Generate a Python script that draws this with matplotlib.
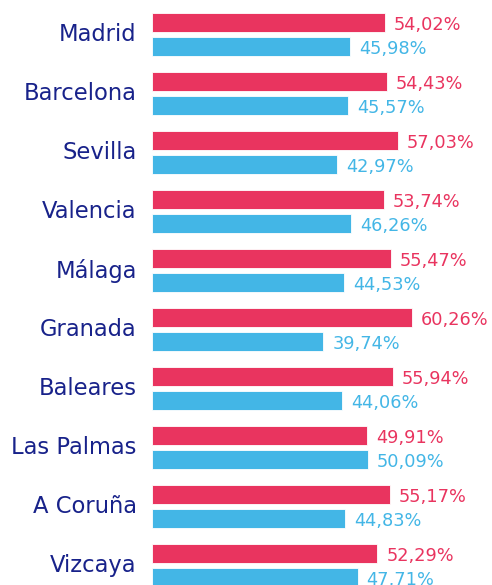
import matplotlib.pyplot as plt
import numpy as np

provincias = ["Madrid", "Barcelona", "Sevilla", "Valencia", "Málaga",
              "Granada", "Baleares", "Las Palmas", "A Coruña", "Vizcaya"]
rojo = [54.02, 54.43, 57.03, 53.74, 55.47, 60.26, 55.94, 49.91, 55.17, 52.29]
azul = [45.98, 45.57, 42.97, 46.26, 44.53, 39.74, 44.06, 50.09, 44.83, 47.71]

C_ROJO = "#e9345f"
C_AZUL = "#43b6e6"
C_TXT = "#18228a"

fig = plt.figure(figsize=(4.92, 5.85), dpi=100)
ax = fig.add_axes([152 / 492, 0, 340 / 492, 1])

y = np.arange(len(provincias))
off, h = 0.203, 0.322
ax.barh(y - off, rojo, height=h, color=C_ROJO, edgecolor="white", linewidth=0.6)
ax.barh(y + off, azul, height=h, color=C_AZUL, edgecolor="white", linewidth=0.6)

def fmt(v):
    return f"{v:.2f}".replace(".", ",") + "%"

for i in y:
    ax.annotate(fmt(rojo[i]), (rojo[i], i - off), xytext=(6.5, -2),
                textcoords="offset points", va="center", ha="left",
                color=C_ROJO, fontsize=12.8)
    ax.annotate(fmt(azul[i]), (azul[i], i + off), xytext=(6.5, -2),
                textcoords="offset points", va="center", ha="left",
                color=C_AZUL, fontsize=12.8)

ax.set_xlim(0, 340 / 4.31)
ax.set_ylim(9.33, -0.585)
# etiquetas un poco por encima del centro del grupo
ax.set_yticks(y - 0.04)
ax.set_yticklabels(provincias, fontsize=16.3, color=C_TXT)
ax.tick_params(axis="y", length=0, pad=11)
ax.set_xticks([])
for s in ax.spines.values():
    s.set_visible(False)

fig.savefig("out.png", dpi=100)
